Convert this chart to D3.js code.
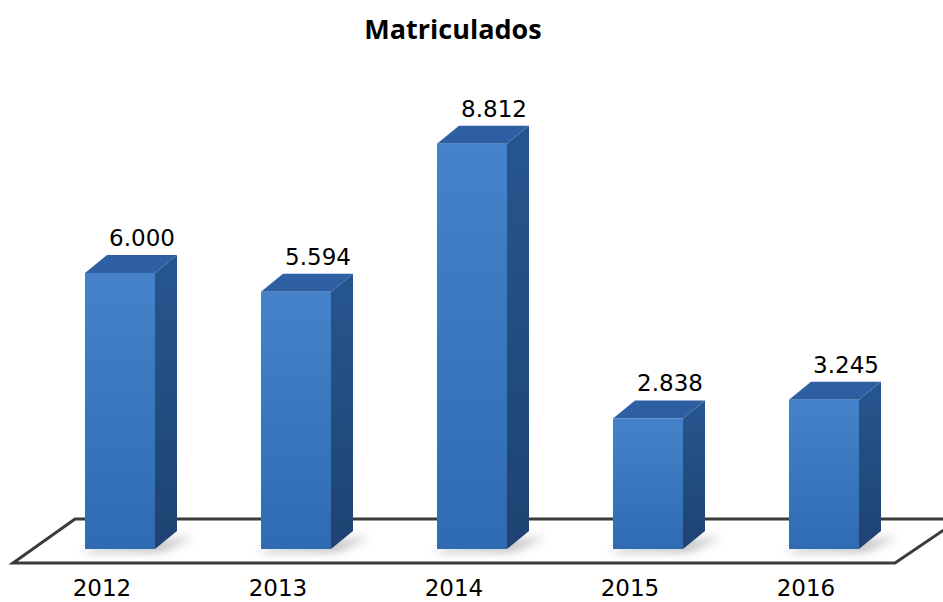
<!DOCTYPE html>
<html lang="es">
<head>
  <meta charset="UTF-8">
  <title>Matriculados</title>
  <script src="https://cdnjs.cloudflare.com/ajax/libs/d3/7.8.5/d3.min.js"></script>
  <style>
    body { margin: 0; background: #fff; }
  </style>
</head>
<body>
  <script>
var years = ["2012", "2013", "2014", "2015", "2016"];
var values = [6000, 5594, 8812, 2838, 3245];
var labels = ["6.000", "5.594", "8.812", "2.838", "3.245"];

var width = 943, height = 602;
var barW = 70, depthX = 22, depthY = 18;

var svg = d3.select("body").append("svg")
    .attr("width", width)
    .attr("height", height);

var defs = svg.append("defs");

var gFront = defs.append("linearGradient").attr("id", "front")
    .attr("x1", 0).attr("y1", 0).attr("x2", 0).attr("y2", 1);
gFront.append("stop").attr("offset", "0%").attr("stop-color", "#4682c9");
gFront.append("stop").attr("offset", "100%").attr("stop-color", "#2f6bb5");

var gSide = defs.append("linearGradient").attr("id", "side")
    .attr("x1", 0).attr("y1", 0).attr("x2", 0).attr("y2", 1);
gSide.append("stop").attr("offset", "0%").attr("stop-color", "#27568f");
gSide.append("stop").attr("offset", "100%").attr("stop-color", "#1e4372");

var blur = defs.append("filter").attr("id", "blur")
    .attr("x", "-50%").attr("y", "-50%").attr("width", "200%").attr("height", "200%");
blur.append("feGaussianBlur").attr("stdDeviation", 5);

var x = d3.scalePoint()
    .domain(years)
    .range([120, 824]);

var y = d3.scaleLinear()
    .domain([0, 10000])
    .range([549, 89]);

// title
svg.append("text")
    .attr("x", 453)
    .attr("y", 39)
    .attr("text-anchor", "middle")
    .style("font-family", "'Open Sans', sans-serif")
    .style("font-weight", "bold")
    .style("font-size", "27px")
    .text("Matriculados");

// floor
var floor = [[75, 519], [960, 519], [895, 563], [13, 563]];
svg.append("polygon")
    .attr("points", floor.map(function(p) { return p.join(","); }).join(" "))
    .style("fill", "#fff")
    .style("stroke", "#3b3b3b")
    .style("stroke-width", 3);

var bars = svg.selectAll(".bar")
    .data(years)
  .enter().append("g")
    .attr("class", "bar");

// shadow on the floor
bars.append("polygon")
    .attr("points", function(d) {
      var l = x(d) - barW / 2, b = y(0);
      return [[l + 10, b - 2], [l + barW + depthX + 18, b - 12], [l + barW + 5, b + 3], [l - 5, b + 3]]
        .map(function(p) { return p.join(","); }).join(" ");
    })
    .style("fill", "#8a8a8a")
    .style("opacity", 0.55)
    .attr("filter", "url(#blur)");

// right side
bars.append("polygon")
    .attr("points", function(d, i) {
      var r = x(d) + barW / 2, t = y(values[i]), b = y(0);
      return [[r, t], [r + depthX, t - depthY], [r + depthX, b - depthY], [r, b]]
        .map(function(p) { return p.join(","); }).join(" ");
    })
    .style("fill", "url(#side)");

// top face
bars.append("polygon")
    .attr("points", function(d, i) {
      var l = x(d) - barW / 2, t = y(values[i]);
      return [[l, t], [l + depthX, t - depthY], [l + barW + depthX, t - depthY], [l + barW, t]]
        .map(function(p) { return p.join(","); }).join(" ");
    })
    .style("fill", "#2d5fa2");

// front face
bars.append("rect")
    .attr("x", function(d) { return x(d) - barW / 2; })
    .attr("y", function(d, i) { return y(values[i]); })
    .attr("width", barW)
    .attr("height", function(d, i) { return y(0) - y(values[i]); })
    .style("fill", "url(#front)");

// value labels
bars.append("text")
    .attr("x", function(d) { return x(d) + depthX; })
    .attr("y", function(d, i) { return y(values[i]) - depthY - 9; })
    .attr("text-anchor", "middle")
    .style("font-family", "'DejaVu Sans', sans-serif")
    .style("font-size", "23px")
    .text(function(d, i) { return labels[i]; });

// year labels
svg.selectAll(".year")
    .data(years)
  .enter().append("text")
    .attr("class", "year")
    .attr("x", function(d) { return x(d) - 18; })
    .attr("y", 596)
    .attr("text-anchor", "middle")
    .style("font-family", "'DejaVu Sans', sans-serif")
    .style("font-size", "23px")
    .text(function(d) { return d; });
  </script>
</body>
</html>
